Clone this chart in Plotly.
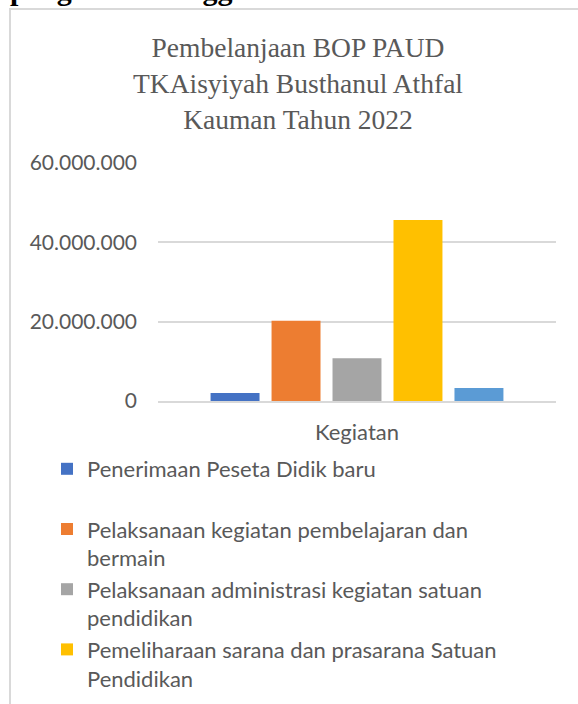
import plotly.graph_objects as go

categories = ["Kegiatan"]
series_names = [
    "Penerimaan Peseta Didik baru<br> ",
    "Pelaksanaan kegiatan pembelajaran dan<br>bermain",
    "Pelaksanaan administrasi kegiatan satuan<br>pendidikan",
    "Pemeliharaan sarana dan prasarana Satuan<br>Pendidikan",
    "Lainnya",
]
series_values = [2000000, 20200000, 10800000, 45600000, 3300000]
series_colors = ["#4472C4", "#ED7D31", "#A5A5A5", "#FFC000", "#5B9BD5"]
show_in_legend = [True, True, True, True, False]
y_ticks = [0, 20000000, 40000000, 60000000]

W, H = 578, 704
L, R, T, B = 158, 22, 163, 303
PW, PH = W - L - R, H - T - B

def px_x(p):
    return (p - L) / PW

def px_y(p):
    return (H - B - p) / PH

fig = go.Figure()
for name, val, col, sl in zip(series_names, series_values, series_colors, show_in_legend):
    fig.add_trace(go.Bar(x=categories, y=[val], name=name, marker_color=col,
                         marker_line_width=0, showlegend=sl))

font_sans = "Lato, Open Sans, sans-serif"
fig.update_layout(
    width=W, height=H,
    margin=dict(l=L, r=R, t=T, b=B, autoexpand=False),
    paper_bgcolor="white", plot_bgcolor="white",
    barmode="group", bargap=0.234, bargroupgap=0.197,
    separators=",.",
    title=dict(
        text="Pembelanjaan BOP PAUD<br>TKAisyiyah Busthanul Athfal<br>Kauman Tahun 2022",
        font=dict(family="Liberation Serif, Times New Roman, serif", size=27.5, color="#595959"),
        x=298 / W, xanchor="center", xref="container",
        y=1 - 57 / H, yanchor="top", yref="container",
    ),
    xaxis=dict(range=[-0.5, 0.5], showgrid=False, showline=True, linecolor="#d9d9d9",
               linewidth=2, tickfont=dict(family=font_sans, size=22, color="#595959"),
               ticks="", ticklabelstandoff=11),
    yaxis=dict(range=[0, 60000000], tickvals=y_ticks, tickformat=",d",
               showgrid=True, gridcolor="#d9d9d9", gridwidth=2, zeroline=False,
               showline=False, tickfont=dict(family=font_sans, size=21, color="#595959"),
               ticks="", ticklabelstandoff=20),
    legend=dict(x=px_x(47), xanchor="left", y=px_y(448), yanchor="top",
                font=dict(family=font_sans, size=22, color="#595959"),
                bgcolor="rgba(0,0,0,0)", tracegroupgap=0, itemwidth=30, valign="top"),
    showlegend=True,
)

# chart border
fig.add_shape(type="rect", xref="paper", yref="paper",
              x0=px_x(10), x1=px_x(600), y0=px_y(9), y1=px_y(730),
              line=dict(color="#d9d9d9", width=2), fillcolor="rgba(0,0,0,0)", layer="below")

# document text cut at the top
fig.add_annotation(text="<b>pengelolaan anggaran.</b>", xref="paper", yref="paper",
                   x=px_x(8), xanchor="left", y=px_y(8), yanchor="bottom",
                   showarrow=False,
                   font=dict(family="Liberation Serif, Times New Roman, serif", size=30, color="black"))

fig.write_html("out.html")
